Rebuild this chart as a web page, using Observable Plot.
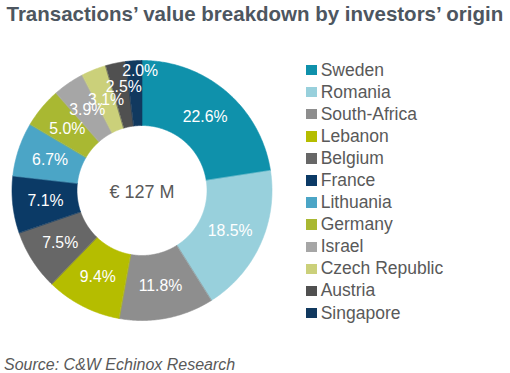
<!DOCTYPE html>
<html>
<head>
<meta charset="utf-8">
<script src="https://cdn.jsdelivr.net/npm/d3@7"></script>
<script src="https://cdn.jsdelivr.net/npm/@observablehq/plot@0.6"></script>
<style>
  html, body { margin: 0; padding: 0; background: #fff; }
  #wrap { position: relative; width: 510px; height: 373px; overflow: hidden; font-family: "Liberation Sans", Arial, sans-serif; }
  #title { position: absolute; left: 6.5px; top: 3.6px; font-size: 20.5px; line-height: 1; font-weight: bold; color: #4d5660; white-space: nowrap; }
  #chart { position: absolute; left: 0; top: 40px; }
  #legend { position: absolute; left: 306px; top: 59px; }
  .item { height: 22.1px; display: flex; align-items: center; font-size: 17.5px; color: #595959; white-space: nowrap; }
  .sw { width: 10.5px; height: 10.5px; margin-right: 4.2px; flex: none; }
  #source { position: absolute; left: 4px; top: 356.5px; font-size: 16px; line-height: 1; font-style: italic; color: #595959; white-space: nowrap; }
</style>
</head>
<body>
<div id="wrap">
  <div id="title">Transactions’ value breakdown by investors’ origin</div>
  <div id="chart"></div>
  <div id="legend"></div>
  <div id="source">Source: C&amp;W Echinox Research</div>
</div>
<script>
const countries = ["Sweden", "Romania", "South-Africa", "Lebanon", "Belgium", "France", "Lithuania", "Germany", "Israel", "Czech Republic", "Austria", "Singapore"];
const shares = [22.6, 18.5, 11.8, 9.4, 7.5, 7.1, 6.7, 5.0, 3.9, 3.1, 2.5, 2.0];
const colors = ["#0f91ab", "#98d0dc", "#8e8e8e", "#b5bd00", "#676767", "#0b3a66", "#4ba5c6", "#a9b832", "#a6a6a6", "#cbd07a", "#505050", "#11395f"];
const centerLabel = "€ 127 M";

const inner = 0.5;   // inner radius relative to outer
const arcs = d3.pie().sort(null).value(d => d)(shares);

// polygon points for every slice (in units of the outer radius)
const pts = [];
arcs.forEach((a, i) => {
  const n = Math.max(4, Math.ceil((a.endAngle - a.startAngle) / 0.01));
  for (let k = 0; k <= n; k++) {
    const t = a.startAngle + (a.endAngle - a.startAngle) * k / n;
    pts.push({country: countries[i], x: Math.sin(t), y: Math.cos(t)});
  }
  for (let k = n; k >= 0; k--) {
    const t = a.startAngle + (a.endAngle - a.startAngle) * k / n;
    pts.push({country: countries[i], x: inner * Math.sin(t), y: inner * Math.cos(t)});
  }
});

const labels = arcs.map((a, i) => {
  const v = shares[i];
  const mid = (a.startAngle + a.endAngle) / 2;
  const push = v < 3 ? (3 - v) : 0;
  const ang = mid + (a.endAngle - mid) * 0.75 * push;
  const r = 0.746 + Math.pow(push, 1.5) * 0.17;
  return {x: r * Math.sin(ang), y: r * Math.cos(ang), text: v.toFixed(1) + "%"};
});

const cx = 141.5, cy = 150, R = 130;
const chart = Plot.plot({
  width: 510,
  height: 300,
  margin: 0,
  style: {fontFamily: "'Liberation Sans', Arial, sans-serif", background: "transparent"},
  x: {domain: [-1, 1], range: [cx - R, cx + R], axis: null},
  y: {domain: [-1, 1], range: [cy + R, cy - R], axis: null},
  color: {domain: countries, range: colors},
  marks: [
    Plot.line(pts, {x: "x", y: "y", z: "country", fill: "country", stroke: "country", strokeWidth: 0.6, curve: "linear-closed"}),
    Plot.text(labels, {x: "x", y: "y", text: "text", fill: "white", fontSize: 15.8}),
    Plot.text([{x: 0, y: -0.012, t: centerLabel}], {x: "x", y: "y", text: "t", fill: "#595959", fontSize: 18})
  ]
});
document.getElementById("chart").appendChild(chart);

const leg = d3.select("#legend");
countries.forEach((c, i) => {
  const it = leg.append("div").attr("class", "item");
  it.append("div").attr("class", "sw").style("background", colors[i]);
  it.append("span").text(c);
});
</script>
</body>
</html>
